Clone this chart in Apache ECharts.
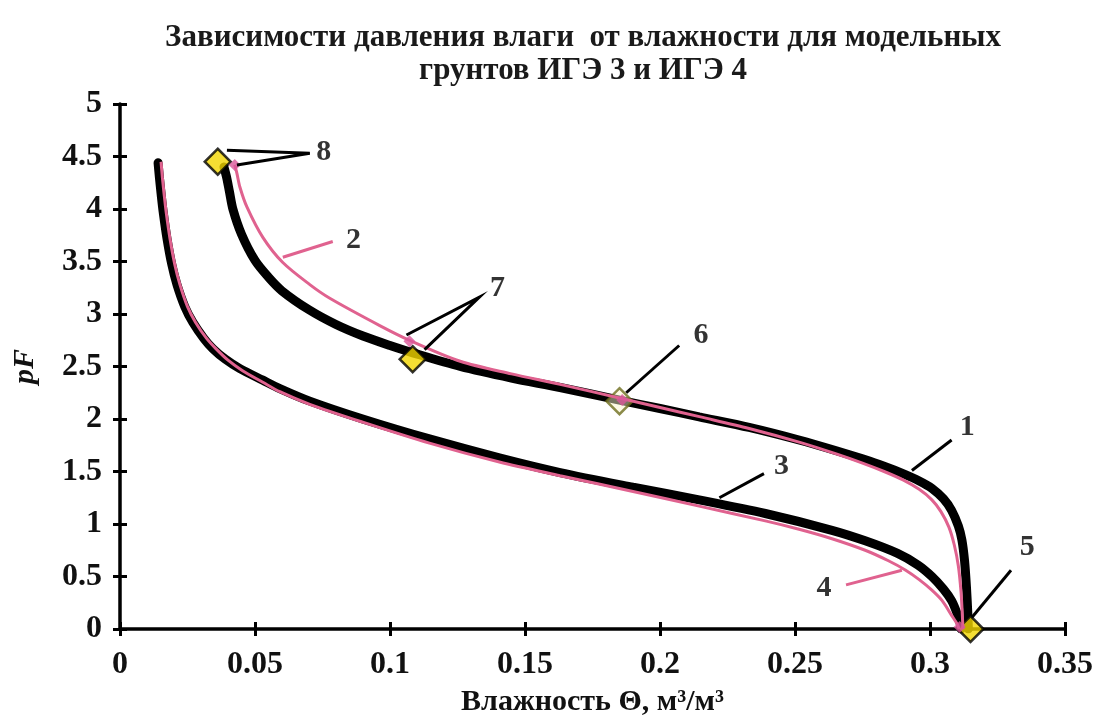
<!DOCTYPE html>
<html><head><meta charset="utf-8">
<script src="https://cdn.jsdelivr.net/npm/echarts@6/dist/echarts.min.js"></script>
<style>html,body{margin:0;padding:0;background:#fff}#c{width:1097px;height:724px}</style>
</head><body><div id="c"></div>
<script>
// Curve 1 (black, thick)
const c1x = [0.0385, 0.0395, 0.0405, 0.0418, 0.0450, 0.0500, 0.0550, 0.0600, 0.0700, 0.0800, 0.0900, 0.1000, 0.1085, 0.126, 0.145, 0.163, 0.185, 0.200, 0.2145, 0.233, 0.2515, 0.265, 0.275, 0.283, 0.290, 0.296, 0.3007, 0.305, 0.308, 0.3105, 0.3118, 0.3128, 0.3135, 0.314, 0.3142];
const c1y = [4.40, 4.30, 4.17, 4.00, 3.76, 3.51, 3.35, 3.22, 3.04, 2.90, 2.79, 2.70, 2.63, 2.50, 2.39, 2.30, 2.18, 2.10, 2.02, 1.92, 1.80, 1.70, 1.62, 1.55, 1.48, 1.41, 1.34, 1.24, 1.13, 0.98, 0.85, 0.65, 0.40, 0.15, 0.0];
// Curve 2 (pink, thin)
const c2x = [0.0425, 0.0433, 0.0444, 0.047, 0.0529, 0.0603, 0.0703, 0.0777, 0.0962, 0.1072, 0.126, 0.145, 0.163, 0.185, 0.200, 0.215, 0.233, 0.2515, 0.265, 0.275, 0.283, 0.290, 0.296, 0.3007, 0.304, 0.307, 0.309, 0.3105, 0.3115, 0.312, 0.3122];
const c2y = [4.42, 4.34, 4.21, 4.02, 3.73, 3.49, 3.28, 3.15, 2.89, 2.75, 2.55, 2.43, 2.33, 2.20, 2.11, 2.02, 1.91, 1.78, 1.67, 1.58, 1.50, 1.42, 1.33, 1.23, 1.12, 0.97, 0.80, 0.60, 0.35, 0.12, 0.0];
// Curve 3 (black, thick)
const c3x = [0.0141, 0.0146, 0.0152, 0.0160, 0.0174, 0.0192, 0.0211, 0.024, 0.027, 0.031, 0.0344, 0.039, 0.0444, 0.0529, 0.0592, 0.0703, 0.0899, 0.1146, 0.1405, 0.163, 0.19, 0.2145, 0.239, 0.2637, 0.276, 0.288, 0.2955, 0.3007, 0.305, 0.308, 0.3100, 0.3112, 0.3115];
const c3y = [4.44, 4.30, 4.15, 3.97, 3.72, 3.47, 3.28, 3.07, 2.92, 2.77, 2.67, 2.57, 2.48, 2.37, 2.29, 2.17, 2.00, 1.81, 1.63, 1.49, 1.35, 1.23, 1.10, 0.94, 0.84, 0.72, 0.61, 0.50, 0.38, 0.27, 0.15, 0.05, 0.0];
// Curve 4 (pink, thin)
const c4x = [0.0152, 0.0157, 0.0163, 0.0171, 0.0185, 0.0203, 0.0222, 0.025, 0.028, 0.032, 0.0355, 0.040, 0.0454, 0.0529, 0.0592, 0.0703, 0.0899, 0.1146, 0.1405, 0.163, 0.19, 0.2145, 0.239, 0.2515, 0.2637, 0.276, 0.2846, 0.291, 0.2960, 0.3007, 0.3045, 0.308, 0.3100, 0.3108];
const c4y = [4.45, 4.30, 4.15, 3.97, 3.72, 3.47, 3.28, 3.07, 2.92, 2.77, 2.67, 2.56, 2.46, 2.35, 2.26, 2.14, 1.97, 1.77, 1.59, 1.46, 1.31, 1.17, 1.03, 0.95, 0.86, 0.75, 0.65, 0.56, 0.47, 0.37, 0.27, 0.13, 0.05, 0.0];
// Yellow diamonds (points 8, 7, 5) and the hollow one (6)
const ydX = [0.0362, 0.1084, 0.315];
const ydY = [4.45, 2.57, 0.0];
const hdX = [0.185];
const hdY = [2.17];
// Small pink diamonds on curve 2
const pdX = [0.0425, 0.1072, 0.186, 0.311];
const pdY = [4.42, 2.74, 2.18, 0.02];
// Numeric labels
const lbText = ['8', '2', '7', '6', '1', '3', '4', '5'];
const lbX = [0.0755, 0.0865, 0.1398, 0.2152, 0.3138, 0.2450, 0.2607, 0.3360];
const lbY = [4.54, 3.70, 3.25, 2.80, 1.92, 1.55, 0.39, 0.78];
// Leader lines (black)
const leadBlack = [
  [[0.0396, 4.56], [0.0703, 4.53], [0.0433, 4.42]],
  [[0.1061, 2.80], [0.1331, 3.16], [0.1128, 2.66]],
  [[0.1875, 2.25], [0.2071, 2.70]],
  [[0.2933, 1.51], [0.308, 1.80]],
  [[0.222, 1.25], [0.2385, 1.48]],
  [[0.3155, 0.11], [0.330, 0.56]]
];
// Leader lines (pink)
const leadPink = [
  [[0.0603, 3.54], [0.0788, 3.69]],
  [[0.2689, 0.42], [0.2896, 0.56]]
];

const zip = (a, b) => a.map((v, i) => [v, b[i]]);
const PINK = '#e0628f';
const FONT = 'Liberation Serif';

const chart = echarts.init(document.getElementById('c'), null, {renderer: 'canvas'});
const axisLbl = {fontFamily: FONT, fontWeight: 'bold', fontSize: 32, color: '#111'};
chart.setOption({
  backgroundColor: '#fff',
  animation: false,
  title: {
    text: 'Зависимости давления влаги  от влажности для модельных\nгрунтов ИГЭ 3 и ИГЭ 4',
    left: 578, top: 16, textAlign: 'center',
    textStyle: {fontFamily: FONT, fontWeight: 'bold', fontSize: 31, color: '#1a1a1a', lineHeight: 33}
  },
  grid: {left: 120, right: 32, top: 104, bottom: 95, outerBoundsMode: 'none'},
  xAxis: [{
    type: 'value', min: 0, max: 0.35, interval: 0.05,
    name: 'Влажность Θ, м³/м³', nameLocation: 'middle', nameGap: 58,
    nameTextStyle: {fontFamily: FONT, fontWeight: 'bold', fontSize: 30, color: '#111'},
    axisLine: {show: true, lineStyle: {color: '#000', width: 3.5}},
    axisTick: {show: true, length: 7, lineStyle: {color: '#000', width: 3}},
    axisLabel: Object.assign({margin: 20, formatter: v => String(+v.toFixed(2))}, axisLbl),
    splitLine: {show: false}
  }, {
    type: 'value', min: 0, max: 0.35, interval: 0.05, position: 'bottom',
    axisLine: {show: false},
    axisTick: {show: true, inside: true, length: 7, lineStyle: {color: '#000', width: 3}},
    axisLabel: {show: false}, splitLine: {show: false}
  }],
  yAxis: [{
    type: 'value', min: 0, max: 5, interval: 0.5,
    name: 'pF', nameLocation: 'middle', nameGap: 80, nameRotate: 90,
    nameTextStyle: {fontFamily: FONT, fontWeight: 'bold', fontStyle: 'italic', fontSize: 30, color: '#111'},
    axisLine: {show: true, lineStyle: {color: '#000', width: 3.5}},
    axisTick: {show: true, length: 7, lineStyle: {color: '#000', width: 3}},
    axisLabel: Object.assign({margin: 18}, axisLbl),
    splitLine: {show: false}
  }, {
    type: 'value', min: 0, max: 5, interval: 0.5, position: 'left',
    axisLine: {show: false},
    axisTick: {show: true, inside: true, length: 7, lineStyle: {color: '#000', width: 3}},
    axisLabel: {show: false}, splitLine: {show: false}
  }],
  series: [
    {type: 'line', data: zip(c1x, c1y), smooth: 0.3, showSymbol: false, z: 2,
     lineStyle: {color: '#000', width: 9, cap: 'round'}},
    {type: 'line', data: zip(c3x, c3y), smooth: 0.3, showSymbol: false, z: 2,
     lineStyle: {color: '#000', width: 9, cap: 'round'}},
    {type: 'scatter', data: zip(ydX, ydY), symbol: 'diamond', symbolSize: 26, z: 3,
     itemStyle: {color: '#f2d600', borderColor: '#000', borderWidth: 2.5}},
    {type: 'scatter', data: zip(hdX, hdY), symbol: 'diamond', symbolSize: 26, z: 3,
     itemStyle: {color: 'rgba(250,245,200,0.6)', borderColor: '#6e6e1e', borderWidth: 2.5}},
    {type: 'line', data: zip(c2x, c2y), smooth: 0.3, showSymbol: false, z: 4,
     lineStyle: {color: PINK, width: 3}},
    {type: 'line', data: zip(c4x, c4y), smooth: 0.3, showSymbol: false, z: 4,
     lineStyle: {color: PINK, width: 3}},
    {type: 'scatter', data: zip(pdX, pdY), symbol: 'diamond', symbolSize: 12, z: 5,
     itemStyle: {color: '#d9579a'}},
    {type: 'lines', coordinateSystem: 'cartesian2d', polyline: true, z: 6,
     data: leadBlack.map(c => ({coords: c})),
     lineStyle: {color: '#000', width: 3, opacity: 1}},
    {type: 'lines', coordinateSystem: 'cartesian2d', polyline: true, z: 6,
     data: leadPink.map(c => ({coords: c})),
     lineStyle: {color: PINK, width: 3, opacity: 1}},
    {type: 'scatter', symbolSize: 1, itemStyle: {color: 'rgba(0,0,0,0)'}, z: 7,
     data: lbText.map((t, i) => ({name: t, value: [lbX[i], lbY[i]]})),
     label: {show: true, position: 'inside', formatter: p => p.name,
       fontFamily: FONT, fontWeight: 'bold', fontSize: 30, color: '#000'}}
  ]
});
</script></body></html>
